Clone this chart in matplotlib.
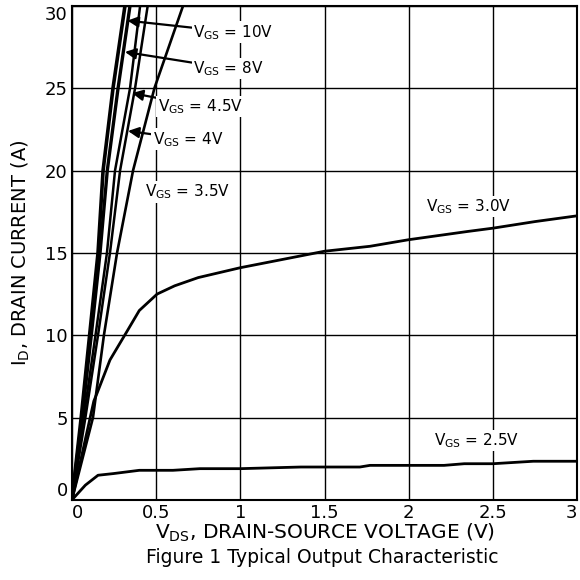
import numpy as np
import matplotlib.pyplot as plt

plt.rcParams['font.family'] = ['DejaVu Sans']

# steep curves: current levels and the drain voltages at which they are reached
id_steep = [0, 5, 10, 15, 20, 25, 30]
vds_10v = [0, 0.055, 0.105, 0.155, 0.185, 0.244, 0.315]
vds_8v = [0, 0.06, 0.115, 0.167, 0.21, 0.274, 0.345]
vds_45v = [0, 0.07, 0.14, 0.208, 0.256, 0.345, 0.405]
vds_4v = [0, 0.08, 0.155, 0.226, 0.286, 0.375, 0.45]
vds_35v = [0, 0.125, 0.19, 0.268, 0.363, 0.49, 0.66]

vds_3v = [0, 0.13, 0.15, 0.226, 0.325, 0.4, 0.506, 0.61, 0.75, 1.0, 1.25,
          1.5, 1.77, 2.0, 2.21, 2.35, 2.5, 2.75, 3.0]
id_3v = [0, 6.0, 6.5, 8.5, 10.2, 11.5, 12.5, 13.0, 13.5, 14.1, 14.6,
         15.1, 15.4, 15.8, 16.1, 16.3, 16.5, 16.9, 17.25]

vds_25v = [0, 0.08, 0.155, 0.245, 0.4, 0.6, 0.76, 1.0, 1.36, 1.71, 1.77,
           2.21, 2.33, 2.5, 2.74, 3.0]
id_25v = [0, 0.9, 1.5, 1.6, 1.8, 1.8, 1.9, 1.9, 2.0, 2.0, 2.1,
          2.1, 2.2, 2.2, 2.35, 2.35]

x_ticks = [0, 0.5, 1, 1.5, 2, 2.5, 3]
x_labels = ['0', '0.5', '1', '1.5', '2', '2.5', '3']
y_ticks = [0, 5, 10, 15, 20, 25, 30]

fig = plt.figure(figsize=(5.8, 5.8), dpi=100)
ax = fig.add_axes([0.124, 0.138, 0.871, 0.852])

ax.plot(vds_10v, id_steep, color='black', lw=2.6)
ax.plot(vds_8v, id_steep, color='black', lw=2.4)
ax.plot(vds_45v, id_steep, color='black', lw=1.8)
ax.plot(vds_4v, id_steep, color='black', lw=1.8)
ax.plot(vds_35v, id_steep, color='black', lw=1.9)
ax.plot(vds_3v, id_3v, color='black', lw=2.0)
ax.plot(vds_25v, id_25v, color='black', lw=2.0)

ax.set_xlim(0, 3)
ax.set_ylim(0, 30)
ax.set_xticks(x_ticks)
ax.set_xticklabels(x_labels)
ax.set_yticks(y_ticks)
ax.grid(True, color='black', lw=1.0)
ax.tick_params(length=0, labelsize=13, pad=3)
for s in ax.spines.values():
    s.set_linewidth(1.5)

# end labels sit inside the axis range, as in the datasheet
xt = ax.get_xticklabels()
xt[0].set_ha('left')
xt[-1].set_ha('right')
yt = ax.get_yticklabels()
yt[0].set_va('bottom')
yt[-1].set_va('top')

arrow = dict(arrowstyle='-|>', color='black', lw=1.6, mutation_scale=16,
             shrinkA=0, shrinkB=0)
fs = 11
box = dict(fc='white', ec='none', pad=1)
ax.annotate('V$_{\\mathregular{GS}}$ = 10V', xy=(0.33, 29.1), xytext=(0.72, 28.4),
            fontsize=fs, va='center', ha='left', arrowprops=arrow, bbox=box)
ax.annotate('V$_{\\mathregular{GS}}$ = 8V', xy=(0.315, 27.2), xytext=(0.72, 26.2),
            fontsize=fs, va='center', ha='left', arrowprops=arrow, bbox=box)
ax.annotate('V$_{\\mathregular{GS}}$ = 4.5V', xy=(0.357, 24.7), xytext=(0.51, 23.9),
            fontsize=fs, va='center', ha='left', arrowprops=arrow, bbox=box)
ax.annotate('V$_{\\mathregular{GS}}$ = 4V', xy=(0.333, 22.4), xytext=(0.48, 21.9),
            fontsize=fs, va='center', ha='left', arrowprops=arrow, bbox=box)
ax.text(0.435, 18.7, 'V$_{\\mathregular{GS}}$ = 3.5V', fontsize=fs, va='center',
        ha='left', bbox=box)
ax.text(2.1, 17.8, 'V$_{\\mathregular{GS}}$ = 3.0V', fontsize=fs, va='center',
        ha='left', bbox=box)
ax.text(2.15, 3.6, 'V$_{\\mathregular{GS}}$ = 2.5V', fontsize=fs, va='center',
        ha='left', bbox=box)

ax.set_xlabel('V$_{\\mathregular{DS}}$, DRAIN-SOURCE VOLTAGE (V)', fontsize=14.5, labelpad=0)
ax.set_ylabel('I$_{\\mathregular{D}}$, DRAIN CURRENT (A)', fontsize=14, labelpad=9)
fig.text(0.555, 0.039, 'Figure 1 Typical Output Characteristic', fontsize=13.5,
         ha='center', va='center')

fig.savefig('out.png', dpi=100)
